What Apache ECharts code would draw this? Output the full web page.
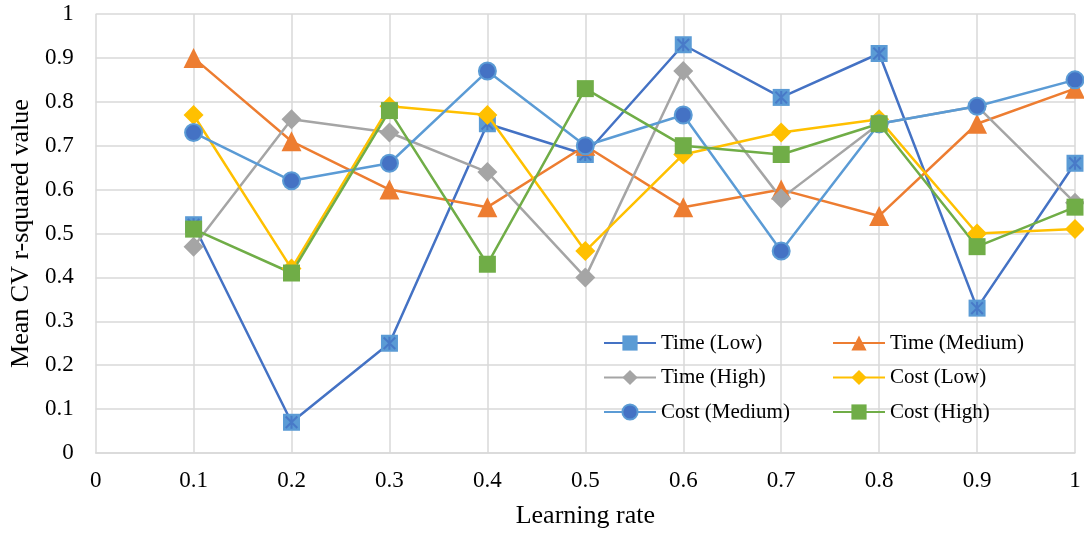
<!DOCTYPE html>
<html>
<head>
<meta charset="utf-8">
<script src="https://cdn.jsdelivr.net/npm/echarts@6/dist/echarts.min.js"></script>
<style>
html,body{margin:0;padding:0;background:#fff;}
#chart{width:1084px;height:535px;}
</style>
</head>
<body>
<div id="chart"></div>
<script>
const learningRates = [0.1, 0.2, 0.3, 0.4, 0.5, 0.6, 0.7, 0.8, 0.9, 1.0];
const tickLabels = ['0', '0.1', '0.2', '0.3', '0.4', '0.5', '0.6', '0.7', '0.8', '0.9', '1'];
const timeLow    = [0.52, 0.07, 0.25, 0.75, 0.68, 0.93, 0.81, 0.91, 0.33, 0.66];
const timeMedium = [0.90, 0.71, 0.60, 0.56, 0.70, 0.56, 0.60, 0.54, 0.75, 0.83];
const timeHigh   = [0.47, 0.76, 0.73, 0.64, 0.40, 0.87, 0.58, 0.75, 0.79, 0.57];
const costLow    = [0.77, 0.42, 0.79, 0.77, 0.46, 0.68, 0.73, 0.76, 0.50, 0.51];
const costMedium = [0.73, 0.62, 0.66, 0.87, 0.70, 0.77, 0.46, 0.75, 0.79, 0.85];
const costHigh   = [0.51, 0.41, 0.78, 0.43, 0.83, 0.70, 0.68, 0.75, 0.47, 0.56];

const pairs = vals => learningRates.map((x, i) => [x, vals[i]]);
const FONT = '"Liberation Serif", "Times New Roman", serif';
const fmt = v => tickLabels[Math.round(v * 10)];
const ASTERISK = 'path://M4.2 0L5.8 0L5.8 10L4.2 10Z M0 1.1L1.1 0L10 8.9L8.9 10Z M8.9 0L10 1.1L1.1 10L0 8.9Z';

function lineSeries(name, vals, lineColor, symbol, size, fill, z, border, borderW) {
  return {
    name: name, type: 'line', data: pairs(vals), z: z,
    symbol: symbol, symbolSize: size,
    lineStyle: {color: lineColor, width: 2.5},
    itemStyle: {color: fill, borderColor: border || fill, borderWidth: borderW || 0},
    emphasis: {disabled: true},
    animation: false
  };
}

const legendBase = {
  orient: 'vertical', top: 332.5, padding: 0, itemWidth: 52, itemHeight: 19, itemGap: 13.5,
  selectedMode: false,
  textStyle: {fontFamily: FONT, fontSize: 21, color: '#000', lineHeight: 21}
};

const chart = echarts.init(document.getElementById('chart'), null, {renderer: 'canvas'});
chart.setOption({
  animation: false,
  backgroundColor: '#ffffff',
  grid: {left: 94, right: 9, top: 14, bottom: 82},
  xAxis: {
    type: 'value', min: 0, max: 1, interval: 0.1,
    name: 'Learning rate', nameLocation: 'middle', nameGap: 50,
    nameTextStyle: {fontFamily: FONT, fontSize: 26, color: '#000'},
    axisLine: {show: true, lineStyle: {color: '#d9d9d9', width: 1.5}},
    axisTick: {show: false},
    axisLabel: {formatter: fmt, fontFamily: FONT, fontSize: 23, color: '#000', margin: 16},
    splitLine: {show: true, lineStyle: {color: '#d9d9d9', width: 1.5}}
  },
  yAxis: {
    type: 'value', min: 0, max: 1, interval: 0.1,
    name: 'Mean CV r-squared value', nameLocation: 'middle', nameGap: 60,
    nameTextStyle: {fontFamily: FONT, fontSize: 26, color: '#000'},
    axisLine: {show: false},
    axisTick: {show: false},
    axisLabel: {formatter: fmt, fontFamily: FONT, fontSize: 23, color: '#000', margin: 22},
    splitLine: {show: true, lineStyle: {color: '#d9d9d9', width: 1.5}}
  },
  legend: [
    Object.assign({}, legendBase, {left: 603, data: ['Time (Low)', 'Time (High)', 'Cost (Medium)']}),
    Object.assign({}, legendBase, {left: 832, data: ['Time (Medium)', 'Cost (Low)', 'Cost (High)']})
  ],
  series: [
    lineSeries('Time (Low)', timeLow, '#4472C4', 'rect', 17, '#5B9BD5', 2),
    {
      name: 'Time (Low) marks', type: 'scatter', data: pairs(timeLow), z: 3,
      symbol: ASTERISK, symbolSize: 13,
      itemStyle: {color: '#4472C4'},
      emphasis: {disabled: true}, silent: true, animation: false
    },
    lineSeries('Time (Medium)', timeMedium, '#ED7D31', 'triangle', 20, '#ED7D31', 4),
    lineSeries('Time (High)', timeHigh, '#A5A5A5', 'diamond', 20, '#A5A5A5', 4),
    lineSeries('Cost (Low)', costLow, '#FFC000', 'diamond', 20, '#FFC000', 4),
    lineSeries('Cost (Medium)', costMedium, '#5B9BD5', 'circle', 17, '#4472C4', 4, '#5B9BD5', 2),
    lineSeries('Cost (High)', costHigh, '#70AD47', 'rect', 17, '#70AD47', 4)
  ]
});
</script>
</body>
</html>
